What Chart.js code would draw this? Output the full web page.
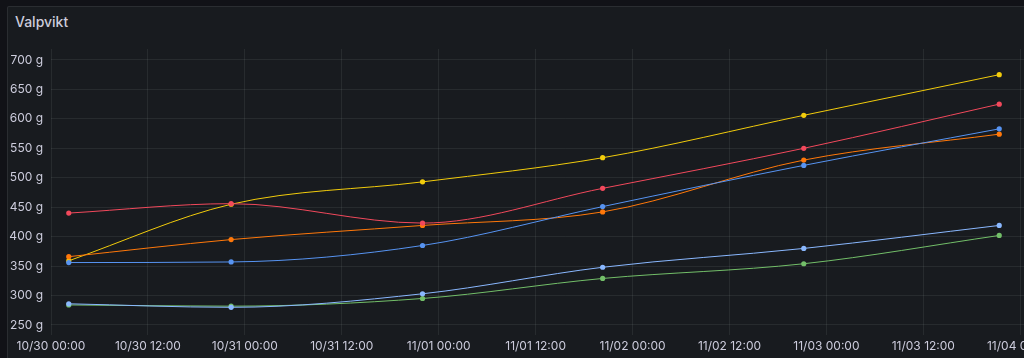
<!DOCTYPE html>
<html><head><meta charset="utf-8">
<script src="https://cdn.jsdelivr.net/npm/chart.js@4.4.1/dist/chart.umd.min.js"></script>
<style>
html,body{margin:0;padding:0;background:#111217;width:1024px;height:358px;overflow:hidden;position:relative;}
#panel{position:absolute;left:7px;top:6px;width:1100px;height:370px;background:#181b1f;border:1px solid rgba(204,204,220,0.10);border-radius:2px;box-sizing:border-box;}
#title{position:absolute;left:15px;top:13px;font:500 14px Inter, "Noto Sans", sans-serif;color:#ccccdc;line-height:17px;}
#c{position:absolute;left:0;top:0;}
</style></head><body>
<div id="panel"></div>
<div id="title">Valpvikt</div>
<canvas id="c" width="1100" height="358"></canvas>
<script>
// hours since 10/30 00:00
const times = [2.2, 22.3, 46.0, 68.3, 93.2, 117.4];
const tickLabels = ['10/30 00:00','10/30 12:00','10/31 00:00','10/31 12:00','11/01 00:00','11/01 12:00','11/02 00:00','11/02 12:00','11/03 00:00','11/03 12:00','11/04 00:00','11/04 12:00'];
const yTickValues = [250, 300, 350, 400, 450, 500, 550, 600, 650, 700];

const names = ['Valp 1','Valp 2','Valp 3','Valp 4','Valp 5','Valp 6'];
const green     = [284, 282, 295, 329, 354, 402];
const yellow    = [359, 455, 493, 534, 606, 675];
const lightBlue = [286, 280, 303, 348, 380, 419];
const orange    = [366, 395, 419, 442, 530, 574];
const red       = [440, 456, 423, 482, 550, 625];
const blue      = [356, 357, 385, 451, 521, 583];

const series = [green, yellow, lightBlue, orange, red, blue];
const colors = ['#73BF69', '#F2CC0C', '#8AB8FF', '#FF780A', '#F2495C', '#5794F2'];

const datasets = series.map((vals, i) => ({
  label: names[i],
  data: vals.map((v, j) => ({x: times[j], y: v})),
  borderColor: colors[i],
  backgroundColor: colors[i],
  borderWidth: 1,
  pointRadius: 2.6,
  pointBorderWidth: 0,
  pointBackgroundColor: colors[i],
  cubicInterpolationMode: 'monotone',
  fill: false,
  order: series.length - i
}));

const gridColor = 'rgba(240,250,255,0.07)';
const tickFont = {family: 'Inter, "Noto Sans", sans-serif', size: 12};

new Chart(document.getElementById('c'), {
  type: 'line',
  data: {datasets},
  options: {
    responsive: false,
    animation: false,
    layout: {padding: {left: 0, right: 20, top: 49, bottom: 3}},
    plugins: {legend: {display: false}, tooltip: {enabled: false}, title: {display: false}},
    scales: {
      x: {
        type: 'linear',
        min: 0, max: 127.4,
        afterFit: s => { s.height = 20; },
        afterBuildTicks: s => { s.ticks = s.ticks.filter(t => Number.isInteger(t.value / 12) && t.value <= 127.4); },
        ticks: {stepSize: 12, includeBounds: false, autoSkip: false, maxRotation: 0, padding: 4,
          color: '#ccccdc', font: tickFont,
          callback: v => tickLabels[Math.round(v / 12)]},
        grid: {color: gridColor, drawTicks: false},
        border: {display: false}
      },
      y: {
        type: 'linear',
        min: 233, max: 718.6,
        afterFit: s => { s.width = 51; },
        afterBuildTicks: s => { s.ticks = yTickValues.map(v => ({value: v})); },
        ticks: {stepSize: 50, includeBounds: false, padding: 8, color: '#ccccdc', font: tickFont,
          callback: v => v + ' g'},
        grid: {color: gridColor, drawTicks: false},
        border: {display: false}
      }
    }
  }
});
</script>
</body></html>
